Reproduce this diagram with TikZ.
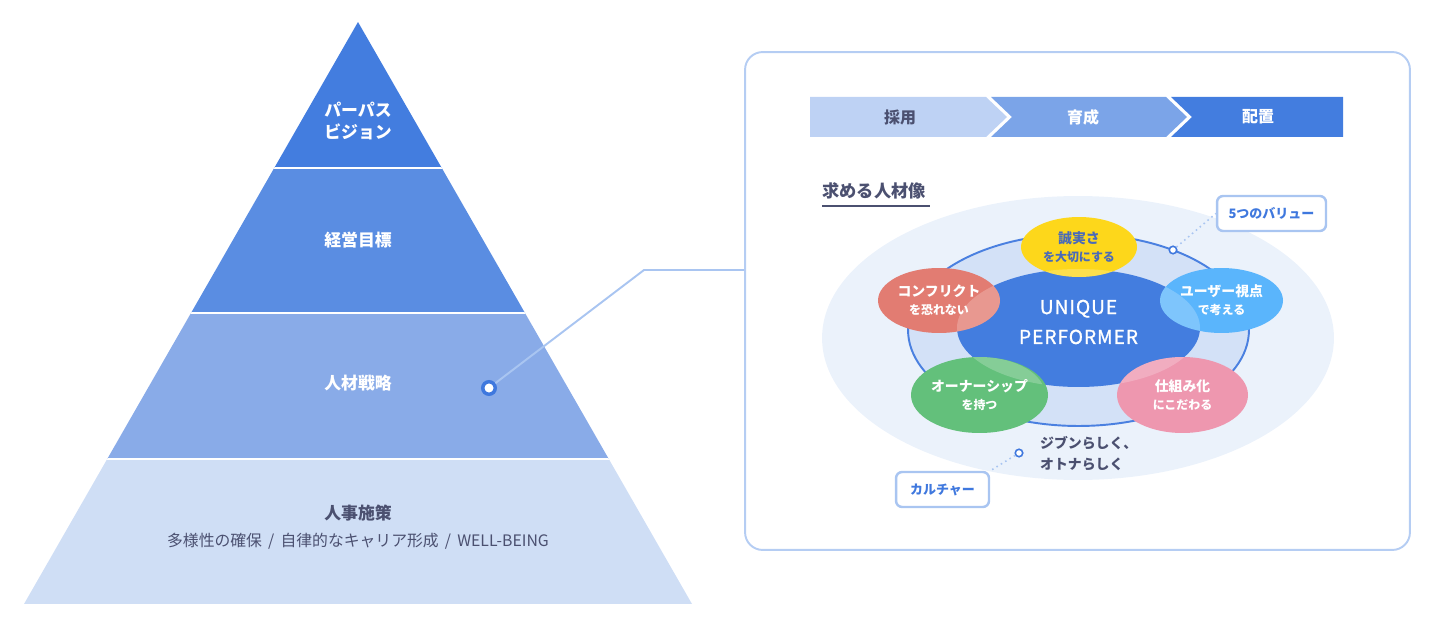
\documentclass[tikz,border=0pt]{standalone}
\usepackage{fontspec}
\setmainfont{Noto Sans CJK JP}
\usetikzlibrary{positioning,shapes.geometric}
\definecolor{tierA}{HTML}{437DDF}
\definecolor{tierB}{HTML}{5A8DE2}
\definecolor{tierC}{HTML}{89ABE8}
\definecolor{tierD}{HTML}{CFDEF5}
\definecolor{chevA}{HTML}{BED2F4}
\definecolor{chevB}{HTML}{7BA4E8}
\definecolor{chevC}{HTML}{437DDF}
\definecolor{ink}{HTML}{4B5070}
\definecolor{accent}{HTML}{3F78DE}
\definecolor{frame}{HTML}{B5CDF3}
\definecolor{linkblue}{HTML}{A9C5F1}
\definecolor{halo}{HTML}{EBF2FB}
\definecolor{ringfill}{HTML}{D3E1F7}
\definecolor{ringline}{HTML}{4A80E0}
\definecolor{vyellow}{HTML}{FDD71B}
\definecolor{vred}{HTML}{E27C72}
\definecolor{vsky}{HTML}{5AB5FC}
\definecolor{vgreen}{HTML}{63C07B}
\definecolor{vpink}{HTML}{EE97AF}
\definecolor{vtext}{HTML}{4A6AB8}
\newcommand\vtitle[1]{{\fontsize{7.9pt}{10.2pt}\selectfont #1}}

\begin{document}
\begin{tikzpicture}[x=0.02cm,y=-0.02cm,
 tier/.style={text=white,align=center,font=\fontsize{9.6pt}{12.5pt}\selectfont\bfseries},
 chev/.style={font=\fontsize{9.1pt}{11pt}\selectfont\bfseries},
 value/.style={ellipse,inner sep=0,align=center,text=white,font=\fontsize{6.8pt}{10.2pt}\selectfont\bfseries},
 tag/.style={draw=linkblue,line width=1.4pt,rounded corners=3.5pt,fill=white,minimum height=0.7cm,text=accent,font=\fontsize{7.4pt}{9pt}\selectfont\bfseries},
 pin/.style={circle,draw=accent,fill=white,line width=0.9pt,minimum size=0.15cm,inner sep=0},
 hint/.style={draw=linkblue,dotted,line width=0.9pt},
 link/.style={draw=linkblue,line width=1.1pt}]
\useasboundingbox (0,0) rectangle (1440,635);

% pyramid
\begin{scope}
\clip (358,22) -- (692,604) -- (24,604) -- cycle;
\foreach \ytop/\ybot/\col in {22/168/tierA,168/313/tierB,313/459/tierC,459/604/tierD}{\fill[\col] (0,\ytop) rectangle (720,\ybot);}
\foreach \yy in {168,313,459}{\draw[white,line width=1.3pt] (0,\yy) -- (720,\yy);}
\end{scope}
\node[tier] (purpose) at (358,121) {パーパス\\ビジョン};
\node[tier] (goal) at (358,240) {経営目標};
\node[tier] (strategy) at (358,383) {人材戦略};
\node[tier,text=ink] (policy) at (358,513) {人事施策};
\node[text=ink,font=\fontsize{9pt}{10pt}\selectfont] (policysub) at (358,541) {多様性の確保\,\ /\ \,自律的なキャリア形成\,\ /\ \,WELL-BEING};

% panel and link
\node[draw=frame,line width=1.1pt,rounded corners=10pt,minimum width=13.3cm,minimum height=9.96cm] (panel) at (1077.5,301) {};
\node[circle,draw=accent,fill=white,line width=2pt,minimum size=0.25cm,inner sep=0] (hrdot) at (489,388) {};
\coordinate (bend) at (644,270);
\draw[link] (hrdot) -- (bend) -- (bend -| panel.west);

% flow bar
\fill[chevA] (810,97) -- (986,97) -- (1007,117) -- (986,137) -- (810,137) -- cycle;
\fill[chevB] (991,97) -- (1166,97) -- (1187,117) -- (1166,137) -- (991,137) -- (1012,117) -- cycle;
\fill[chevC] (1171,97) -- (1343,97) -- (1343,137) -- (1171,137) -- (1192,117) -- cycle;
\node[chev,text=ink] (hire) at (900,117) {採用};
\node[chev,text=white] (grow) at (1083,117) {育成};
\node[chev,text=white] (place) at (1258,117) {配置};

% ideal person
\node[anchor=west,inner sep=0,text=ink,font=\fontsize{9.8pt}{11pt}\selectfont\bfseries] (ideal) at (822,191) {求める人材像};
\coordinate (uline) at (0,206);
\draw[ink,line width=1.2pt] (ideal.west |- uline) -- ([xshift=2pt]ideal.east |- uline);

\node[ellipse,fill=halo,minimum width=10.24cm,minimum height=5.68cm] (halo) at (1078,338) {};
\node[ellipse,fill=ringfill,draw=ringline,line width=1.1pt,minimum width=6.82cm,minimum height=3.84cm] (ring) at (1078.5,330) {};
\node[ellipse,fill=tierA,minimum width=4.86cm,minimum height=2.36cm] (core) at (1078.5,328) {};

\node[value,fill=vyellow,text=vtext,minimum width=2.32cm,minimum height=1.2cm] (sincere) at (1079,247) {\vtitle{誠実さ}\\を大切にする};
\node[value,fill=vred,minimum width=2.44cm,minimum height=1.3cm] (conflict) at (939,300.5) {\vtitle{コンフリクト}\\を恐れない};
\node[value,fill=vsky,minimum width=2.46cm,minimum height=1.3cm] (user) at (1221.5,300.5) {\vtitle{ユーザー視点}\\で考える};
\node[value,fill=vgreen,minimum width=2.62cm,minimum height=1.52cm] (owner) at (979.5,395) {\vtitle{オーナーシップ}\\を持つ};
\node[value,fill=vpink,minimum width=2.62cm,minimum height=1.52cm] (system) at (1182.5,395) {\vtitle{仕組み化}\\にこだわる};
\begin{scope}
\clip (core.center) ellipse [x radius=121.5,y radius=59];
\foreach \v/\rx/\ry in {sincere/58/30,conflict/61/32.5,user/61.5/32.5,owner/65.5/38,system/65.5/38}{\fill[white,opacity=.22] (\v.center) ellipse [x radius=\rx,y radius=\ry];}
\end{scope}
\node[text=white,align=center,font=\fontsize{10.9pt}{17pt}\selectfont\addfontfeature{LetterSpace=5,FakeBold=1.2}] (tagline) at (1078.5,322) {UNIQUE\\PERFORMER};

% tags
\node[pin] (ringdot) at (1173,250) {};
\node[tag,minimum width=2.18cm] (values) at (1271.5,213.5) {5つのバリュー};
\draw[hint] (ringdot) -- (values.west);
\node[anchor=west,align=left,text=ink,font=\fontsize{7.9pt}{11.9pt}\selectfont\bfseries] (motto) at (1034,453.5) {ジブンらしく、\\オトナらしく};
\node[pin] (culturedot) at (1019,453) {};
\node[tag,minimum width=1.86cm] (culture) at (942.5,489.5) {カルチャー};
\draw[hint] (culturedot) -- (culture.north east);
\end{tikzpicture}
\end{document}
